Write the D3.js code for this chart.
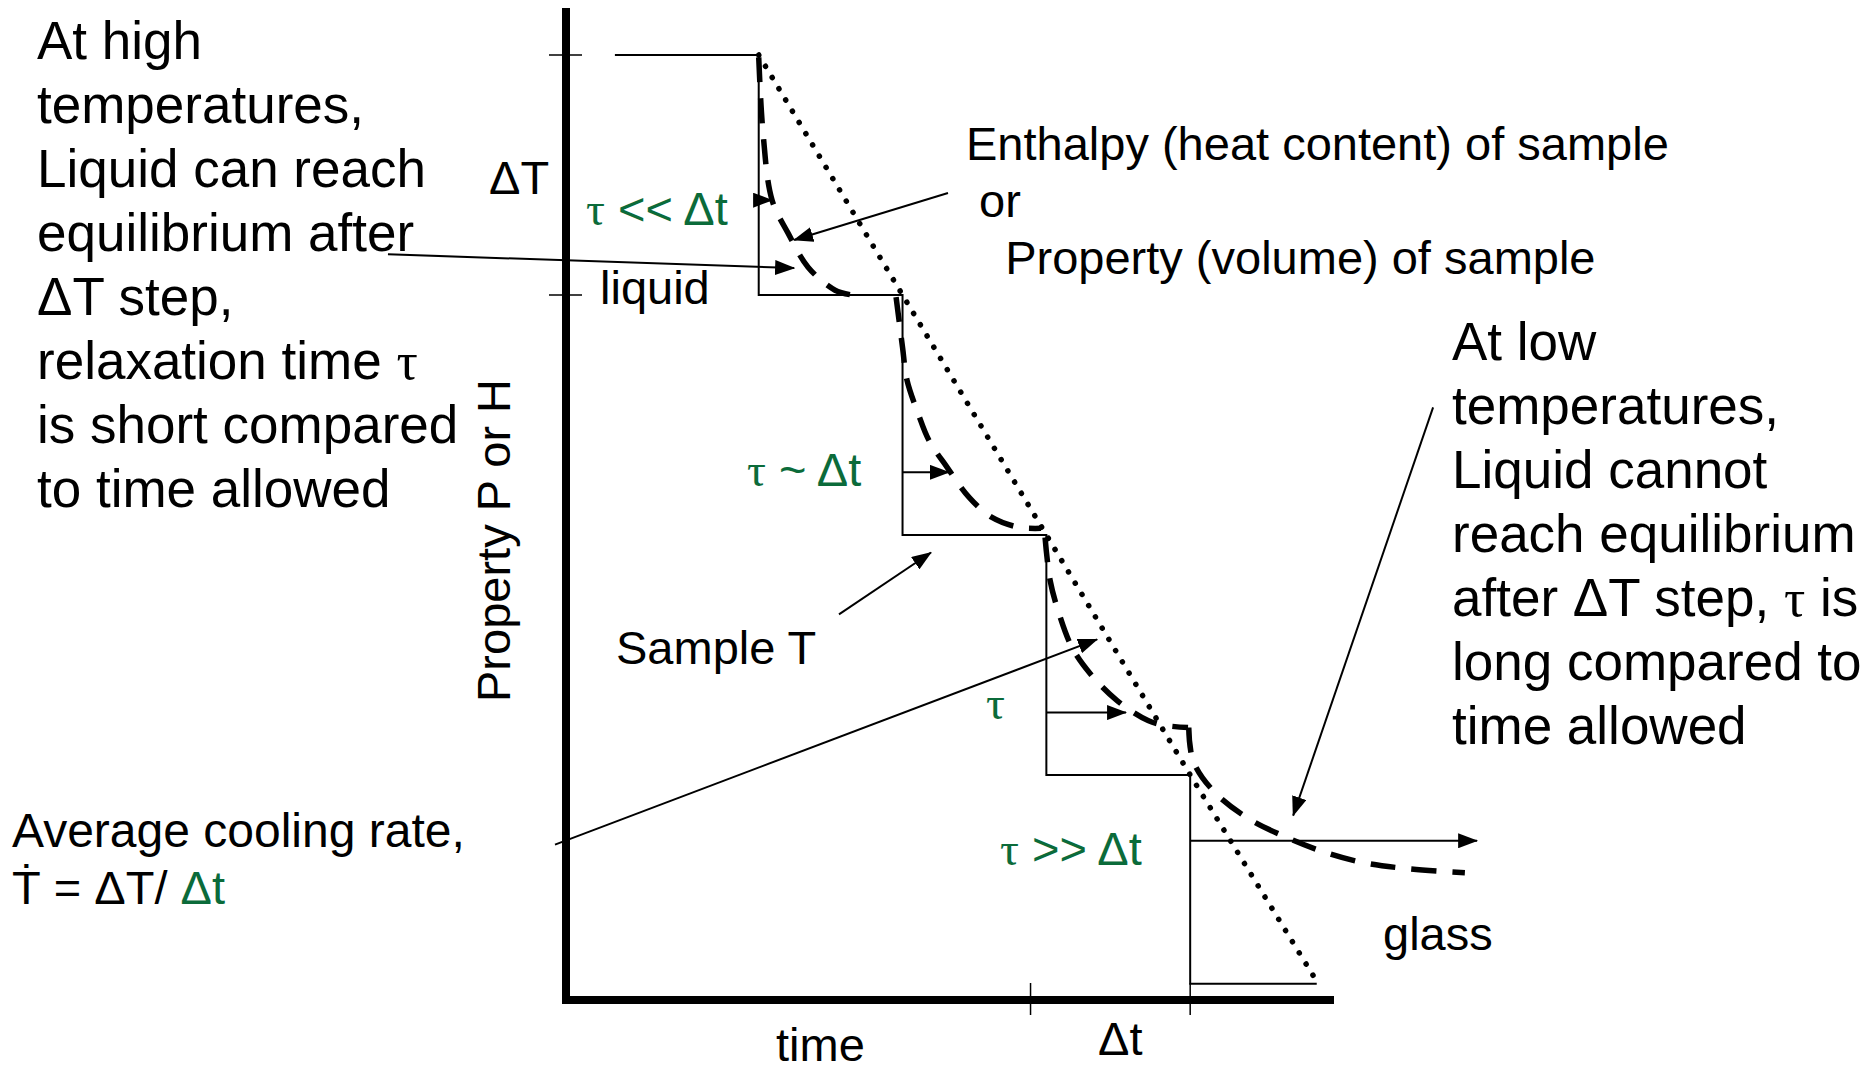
<!DOCTYPE html>
<html>
<head>
<meta charset="utf-8">
<script src="https://cdn.jsdelivr.net/npm/d3@7"></script>
<style>
  body { margin: 0; background: #fff; }
  svg { display: block; font-family: "Liberation Sans", Arial, sans-serif; }
</style>
</head>
<body>
<svg width="1871" height="1067"></svg>
<script>
//data: time in units of the step Δt, property in units of the step ΔT
const stairT = [0, 1, 1, 2, 2, 3, 3, 4, 4, 4.88];
const stairP = [4, 4, 3, 3, 2, 2, 1, 1, 0.13, 0.13];

const equilT = [1, 2, 3, 4, 4.88];
const equilP = [4, 3, 2, 1, 0.14];

const relax1T = [1.0, 1.03, 1.093, 1.204, 1.343, 1.531, 1.649];
const relax1P = [3.99, 3.675, 3.395, 3.258, 3.116, 3.02, 3.0];

const relax2T = [1.955, 2.0, 2.031, 2.108, 2.184, 2.31, 2.463, 2.622, 2.81, 2.963];
const relax2P = [2.991, 2.782, 2.645, 2.507, 2.394, 2.282, 2.157, 2.073, 2.032, 2.028];

const relax3T = [2.991, 3.026, 3.088, 3.179, 3.304, 3.492, 3.707, 3.832, 3.985];
const relax3P = [1.99, 1.811, 1.673, 1.531, 1.423, 1.31, 1.227, 1.206, 1.198];

const relax4T = [3.99, 4.02, 4.159, 4.396, 4.674, 4.903, 5.202, 5.508, 5.91];
const relax4P = [1.198, 1.06, 0.935, 0.822, 0.739, 0.685, 0.635, 0.61, 0.593];

const yTicks = [4, 3];
const xTicks = [2.89, 4];

//arrows: [t0, P0, t1, P1]
const arrows = [
  [1.0, 3.395, 1.093, 3.395],     // tau << dt
  [2.0, 2.261, 2.323, 2.261],     // tau ~ dt
  [3.0, 1.26, 3.554, 1.26],       // tau
  [4.0, 0.726, 5.995, 0.726],     // tau >> dt
  [1.558, 1.669, 2.198, 1.927],   // sample T
  [2.316, 3.425, 1.246, 3.229],   // enthalpy
  [-1.578, 3.170, 1.246, 3.112],  // high temperature text
  [5.689, 2.532, 4.716, 0.831],   // low temperature text
  [-0.4165, 0.71, 3.353, 1.565]   // cooling rate
];

const leftLines = ['At high', 'temperatures,', 'Liquid can reach', 'equilibrium after',
  'ΔT step,', 'relaxation time τ', 'is short compared', 'to time allowed'];
const rightLines = ['At low', 'temperatures,', 'Liquid cannot', 'reach equilibrium',
  'after ΔT step, τ is', 'long compared to', 'time allowed'];
const propLines = ['Enthalpy (heat content) of sample', ' or', '   Property (volume) of sample'];

//set up
const green = '#0b6b3a';
const svg = d3.select('svg');

const x = d3.scaleLinear().domain([-0.34, 5]).range([566, 1334]);
const y = d3.scaleLinear().domain([0.0625, 4]).range([1000, 55]);

const zip = (ts, ps) => ts.map((t, i) => [t, ps[i]]);
const line = d3.line().x(d => x(d[0])).y(d => y(d[1]));
const curve = d3.line().x(d => x(d[0])).y(d => y(d[1])).curve(d3.curveCatmullRom);

svg.append('defs').append('marker')
  .attr('id', 'head')
  .attr('markerUnits', 'userSpaceOnUse')
  .attr('markerWidth', 20).attr('markerHeight', 15)
  .attr('refX', 19).attr('refY', 7.5)
  .attr('orient', 'auto')
  .append('path').attr('d', 'M0,0 L20,7.5 L0,15 Z').attr('fill', '#000');

//axes
const x0 = x.range()[0], y0 = y.range()[0];
svg.append('line')
  .attr('x1', x0).attr('x2', x0)
  .attr('y1', y0 + 4).attr('y2', y(4.196))
  .attr('stroke', '#000').attr('stroke-width', 8);
svg.append('line')
  .attr('x1', x0 - 4).attr('x2', x.range()[1])
  .attr('y1', y0).attr('y2', y0)
  .attr('stroke', '#000').attr('stroke-width', 8);

svg.selectAll('.ytick')
  .data(yTicks)
  .join('line')
  .attr('x1', x0 - 17).attr('x2', x0 + 16)
  .attr('y1', d => y(d)).attr('y2', d => y(d))
  .attr('stroke', '#000').attr('stroke-width', 1.5);

svg.selectAll('.xtick')
  .data(xTicks)
  .join('line')
  .attr('x1', d => x(d)).attr('x2', d => x(d))
  .attr('y1', y0 - 17).attr('y2', y0 + 15)
  .attr('stroke', '#000').attr('stroke-width', 1.5);

//sample temperature staircase
svg.append('path')
  .attr('d', line(zip(stairT, stairP)))
  .attr('fill', 'none').attr('stroke', '#000').attr('stroke-width', 2);

//equilibrium line
svg.append('path')
  .attr('d', line(zip(equilT, equilP)))
  .attr('fill', 'none').attr('stroke', '#000')
  .attr('stroke-width', 5.5).attr('stroke-linecap', 'round')
  .attr('stroke-dasharray', '0.1 13');

//actual property
[zip(relax1T, relax1P), zip(relax2T, relax2P), zip(relax3T, relax3P), zip(relax4T, relax4P)]
  .forEach(seg => {
    svg.append('path')
      .attr('d', curve(seg))
      .attr('fill', 'none').attr('stroke', '#000')
      .attr('stroke-width', 5.5).attr('stroke-dasharray', '25 16');
  });

//arrows
svg.selectAll('.arrow')
  .data(arrows)
  .join('line')
  .attr('x1', d => x(d[0])).attr('y1', d => y(d[1]))
  .attr('x2', d => x(d[2])).attr('y2', d => y(d[3]))
  .attr('stroke', '#000').attr('stroke-width', 2)
  .attr('marker-end', 'url(#head)');

//text helper: tau in serif
function addText(sel, str, fill) {
  str.split(/(τ)/).forEach(part => {
    if (!part) return;
    const ts = sel.append('tspan').text(part).attr('fill', fill);
    if (part === 'τ') ts.style('font-family', '"Liberation Serif", "Times New Roman", serif');
  });
}

function label(px, py, str, size, fill) {
  const t = svg.append('text')
    .attr('x', px).attr('y', py)
    .attr('font-size', size)
    .style('white-space', 'pre');
  addText(t, str, fill || '#000');
  return t;
}

leftLines.forEach((s, i) => label(37, 59 + i * 64, s, 53));
rightLines.forEach((s, i) => label(1452, 360 + i * 64, s, 53));
propLines.forEach((s, i) => label(966, 160 + i * 57, s, 47));

label(489, 194, 'ΔT', 47);
label(586, 225, 'τ << Δt', 47, green);
label(600, 304, 'liquid', 47);
label(747, 486, 'τ ~ Δt', 47, green);
label(616, 664, 'Sample T', 47);
label(986, 719, 'τ', 47, green);
label(1000, 865, 'τ >> Δt', 47, green);
label(1383, 950, 'glass', 47);
label(776, 1061, 'time', 47);
label(1098, 1055, 'Δt', 47);
label(12, 847, 'Average cooling rate,', 48);

const rate = label(12, 904, 'Ṫ = ΔT/ ', 47);
rate.append('tspan').text('Δt').attr('fill', green);

svg.append('text')
  .attr('transform', 'translate(510,702) rotate(-90)')
  .attr('font-size', 47)
  .text('Property P or H');
</script>
</body>
</html>
